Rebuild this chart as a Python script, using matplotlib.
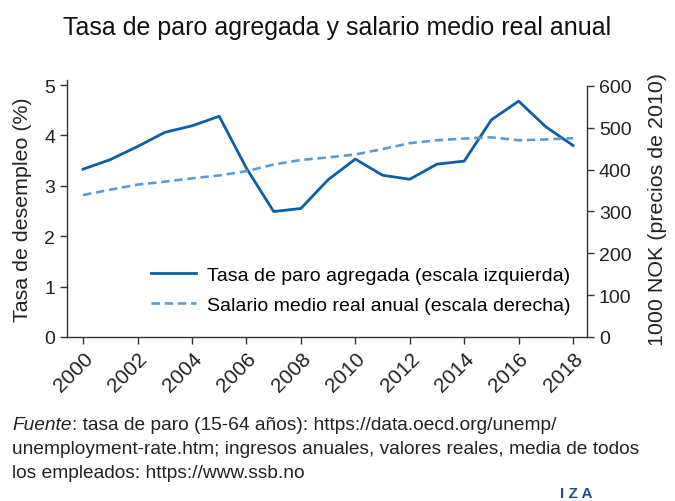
import matplotlib
matplotlib.use("Agg")
from matplotlib import pyplot as plt

plt.rcParams['font.family'] = ['Liberation Sans', 'DejaVu Sans']

years = list(range(2000, 2019))
paro = [3.33, 3.52, 3.78, 4.06, 4.19, 4.38, 3.35, 2.49, 2.55, 3.12,
        3.53, 3.21, 3.13, 3.43, 3.49, 4.31, 4.68, 4.17, 3.80]
salario = [339, 352, 364, 371, 379, 386, 396, 412, 423, 429,
           436, 449, 463, 470, 474, 477, 470, 472, 475]
xticks = list(range(2000, 2019, 2))

dark_blue = '#0b5ea8'
light_blue = '#5b9bd3'
grey = '#333333'
txt = '#222222'

fig = plt.figure(figsize=(6.75, 5.02), dpi=100)
ax = fig.add_axes([0.0993, 0.3267, 0.7703, 0.512])
ax2 = ax.twinx()

l1, = ax.plot(years, paro, color=dark_blue, lw=2.0,
              label='Tasa de paro agregada (escala izquierda)')
l2, = ax2.plot(years, salario, color=light_blue, lw=1.9, ls=(0, (3.2, 1.8)),
               label='Salario medio real anual (escala derecha)')

ax.set_xlim(1999.41, 2018.51)
ax.set_ylim(0, 5.1)
ax2.set_ylim(0, 614)
ax.set_yticks([0, 1, 2, 3, 4, 5])
ax2.set_yticks([0, 100, 200, 300, 400, 500, 600])
ax.set_xticks(xticks)
ax.set_xticklabels([str(y) for y in xticks], rotation=45, ha='right',
                   rotation_mode='anchor')

for a in (ax, ax2):
    a.spines['top'].set_visible(False)
    for s in a.spines.values():
        s.set_color(grey)
        s.set_linewidth(1.0)
    a.tick_params(colors=grey, labelcolor=txt, labelsize=14,
                  length=5, width=1.0)
ax.tick_params(axis='x', labelsize=15)
ax.spines['right'].set_visible(False)
ax2.spines['left'].set_visible(False)
ax2.spines['bottom'].set_visible(False)
ax2.spines['right'].set_bounds(0, 600)

ax.set_ylabel('Tasa de desempleo (%)', fontsize=15.4, color=txt, labelpad=9)
ax2.set_ylabel('1000 NOK (precios de 2010)', fontsize=15.4, color=txt, labelpad=12)

ax.legend(handles=[l1, l2], loc='lower right', bbox_to_anchor=(0.99, 0.045),
          frameon=False, fontsize=14, handlelength=2.3, handletextpad=0.57,
          labelspacing=0.65, borderaxespad=0.2)

fig.text(0.5, 0.944, 'Tasa de paro agregada y salario medio real anual',
         ha='center', va='center', fontsize=18, color='#111111')

foot = 13.8
t1 = fig.text(0.018, 0.153, 'Fuente', style='italic', fontsize=foot, color=txt,
              va='center')
ax.annotate(': tasa de paro (15-64 años): https://data.oecd.org/unemp/',
            xy=(1, 0), xycoords=t1, va='bottom', ha='left',
            fontsize=foot, color=txt, annotation_clip=False)
fig.text(0.018, 0.104, 'unemployment-rate.htm; ingresos anuales, valores reales, media de todos',
         fontsize=foot, color=txt, va='center')
fig.text(0.018, 0.057, 'los empleados: https://www.ssb.no',
         fontsize=foot, color=txt, va='center')
fig.text(0.83, 0.016, 'I Z A', fontsize=11, color='#1f4e99', weight='bold',
         va='center', ha='left')

fig.savefig('out.png', dpi=100)
